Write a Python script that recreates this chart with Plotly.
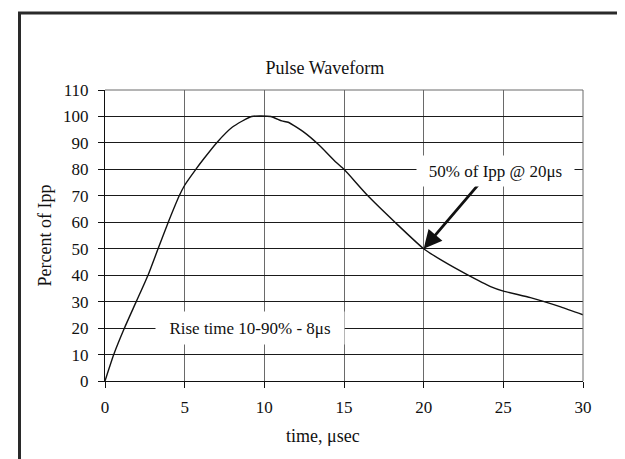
import plotly.graph_objects as go

# Data
time_us = [0, 0.55, 1.22, 1.96, 2.7, 3.33, 3.97, 4.66, 5.0, 5.7, 6.2, 7.0, 8.0, 9.2,
           10.4, 11.1, 11.5, 12.5, 13.4, 14.5, 15, 16.5, 18.2, 20, 21.3, 22.7, 24.2,
           25, 26.7, 28.6, 30]
percent_ipp = [0, 10, 20, 30, 40, 50, 60, 70, 74, 80, 84, 90, 96, 100,
               100, 98.3, 97.8, 94, 89.4, 82.7, 80, 70, 60, 50, 45, 40.3, 35.7,
               34, 31.5, 28, 25]

x_ticks = [0, 5, 10, 15, 20, 25, 30]
y_ticks = [0, 10, 20, 30, 40, 50, 60, 70, 80, 90, 100, 110]

title_text = "Pulse Waveform"
x_title = "time, μsec"
y_title = "Percent of Ipp"
note_rise = "Rise time 10-90% - 8μs"
note_half = "50% of Ipp @ 20μs"
half_point = (20, 50)
half_label = (24.5, 79.5)
arrow_tail = (23.5, 74.7)
rise_label = (9.1, 20)

FONT = "Liberation Serif"

fig = go.Figure()
fig.add_trace(go.Scatter(x=time_us, y=percent_ipp, mode="lines",
                         line=dict(color="#111111", width=1.4, shape="spline", smoothing=0.5),
                         showlegend=False, hoverinfo="skip"))

W, H = 625, 459
L, R, T, B = 97, 50, 82, 86

fig.update_layout(
    width=W, height=H,
    margin=dict(l=L, r=R, t=T, b=B),
    paper_bgcolor="white", plot_bgcolor="white",
    font=dict(family=FONT, size=17, color="#111111"),
    title=dict(text=title_text, x=0.46, xref="paper", xanchor="center",
               y=1 - 60 / H, yref="container", yanchor="middle",
               font=dict(family=FONT, size=18, color="#111111")),
    showlegend=False,
)

fig.update_xaxes(range=[0, 30], tickvals=x_ticks, ticktext=[str(v) for v in x_ticks],
                 showgrid=True, gridcolor="#6a6a6a", gridwidth=1,
                 showline=True, linecolor="#111111", linewidth=1.2,
                 ticks="outside", ticklen=6, tickcolor="#111111", tickwidth=1.2,
                 ticklabelstandoff=4, zeroline=False,
                 tickfont=dict(family=FONT, size=17, color="#111111"))
fig.update_yaxes(range=[0, 110], tickvals=y_ticks, ticktext=[str(v) for v in y_ticks],
                 showgrid=True, gridcolor="#1a1a1a", gridwidth=1,
                 showline=True, linecolor="#111111", linewidth=1.2,
                 ticks="outside", ticklen=6, tickcolor="#111111", tickwidth=1.2,
                 ticklabelstandoff=6, zeroline=False,
                 title=dict(text=y_title, standoff=6,
                            font=dict(family=FONT, size=18, color="#111111")),
                 tickfont=dict(family=FONT, size=17, color="#111111"))

plot_w = W - L - R
plot_h = H - T - B

shapes = [
    # grey top and right edges of plot area
    dict(type="line", xref="paper", yref="paper", x0=0, x1=1, y0=1, y1=1,
         line=dict(color="#6a6a6a", width=1)),
    dict(type="line", xref="paper", yref="paper", x0=1, x1=1, y0=0, y1=1,
         line=dict(color="#6a6a6a", width=1)),
    # outer frame
    dict(type="rect", xref="paper", yref="paper",
         x0=(11.5 - L) / plot_w, x1=(620 - L) / plot_w,
         y0=(H - B - 470) / plot_h, y1=(H - B - 5) / plot_h,
         line=dict(color="#2a2a2a", width=3), fillcolor="rgba(0,0,0,0)", layer="above"),
]
fig.update_layout(shapes=shapes)

annotations = [
    dict(text=x_title, xref="paper", yref="paper",
         x=(315 - L) / plot_w, y=(H - B - 428) / plot_h,
         xanchor="center", yanchor="middle", showarrow=False,
         font=dict(family=FONT, size=18, color="#111111")),
    dict(text=note_rise, x=rise_label[0], y=rise_label[1], xref="x", yref="y",
         showarrow=False, bgcolor="white", width=184, height=28, borderpad=2,
         font=dict(family=FONT, size=17, color="#111111")),
    dict(text="", x=half_point[0], y=half_point[1], xref="x", yref="y",
         ax=arrow_tail[0], ay=arrow_tail[1], axref="x", ayref="y",
         showarrow=True, arrowhead=2, arrowsize=1.3, arrowwidth=2.8,
         arrowcolor="#111111", standoff=0),
    dict(text=note_half, x=half_label[0], y=half_label[1], xref="x", yref="y",
         showarrow=False, bgcolor="white", width=153, height=26, borderpad=2,
         font=dict(family=FONT, size=17, color="#111111")),
]
fig.update_layout(annotations=annotations)

fig.write_html("out.html")
